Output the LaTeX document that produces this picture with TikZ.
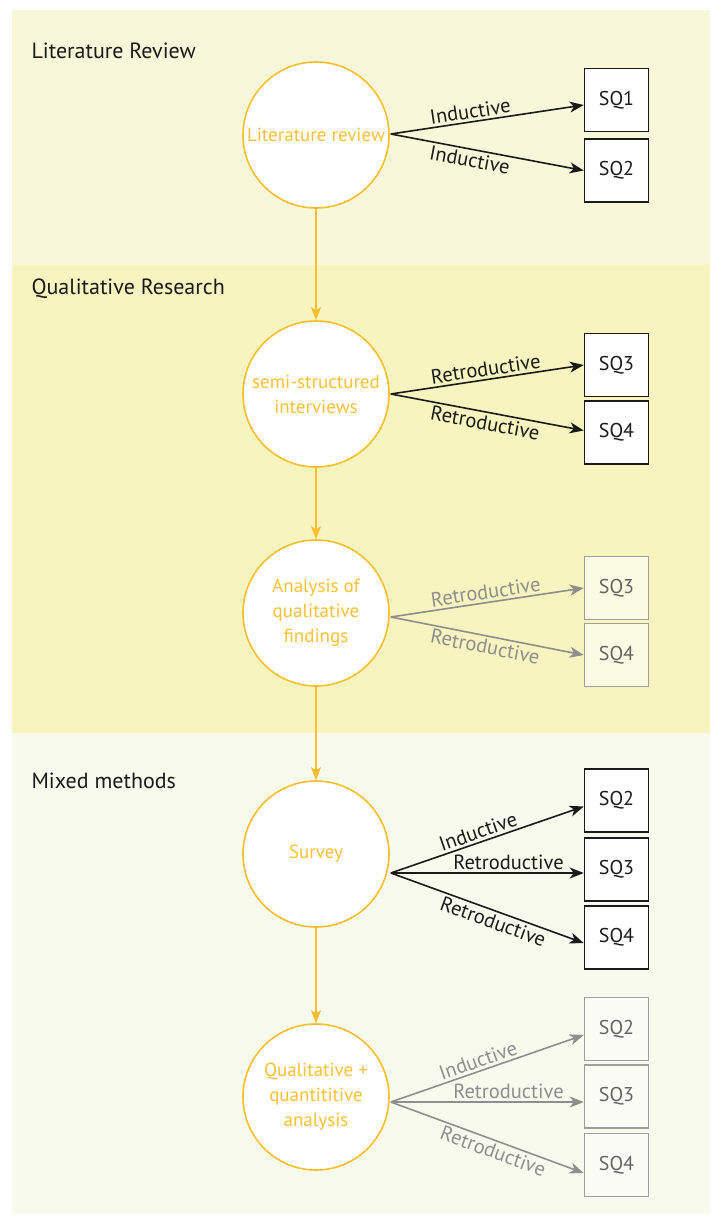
\documentclass[tikz,border=0pt]{standalone}
\usepackage{fontspec}
\setmainfont{PT Sans}
\usetikzlibrary{arrows.meta,calc}

\definecolor{bandA}{HTML}{F9F7D9}
\definecolor{bandB}{HTML}{F7F4BF}
\definecolor{bandC}{HTML}{F9FAEE}
\definecolor{gold}{HTML}{F9BE2B}
\definecolor{goldtext}{HTML}{F9C133}
\definecolor{ink}{HTML}{1A1A1A}
\definecolor{faded}{HTML}{8E8E8E}

\tikzset{
  stage/.style={circle, draw=gold, line width=1.6pt, fill=white,
    minimum size=146pt, inner sep=0pt, text=goldtext, align=center,
    font=\fontsize{19}{25}\selectfont},
  sqbox/.style={draw=ink, line width=1.6pt, fill=white,
    minimum width=64pt, minimum height=63pt, inner sep=0pt,
    font=\fontsize{20}{22}\selectfont, text=ink},
  sqfaded/.style={sqbox, draw=faded!85!white, fill=white, fill opacity=0.55,
    text opacity=1, text=faded!70!black},
  heading/.style={anchor=west, font=\fontsize{22}{26}\selectfont, text=ink},
  link/.style={draw=ink, line width=1.6pt,
    -{Stealth[length=14pt,width=11pt,inset=4pt]}},
  linkfaded/.style={link, draw=faded, -{Stealth[length=14pt,width=11pt,inset=4pt]}},
  flow/.style={draw=gold, line width=1.6pt,
    -{Stealth[length=13pt,width=10pt,inset=3pt]}},
  lab/.style={sloped, font=\fontsize{20.5}{22}\selectfont, text=ink,
    inner xsep=0pt, inner ysep=2.5pt},
  labfaded/.style={lab, text=faded},
}

\begin{document}
\begin{tikzpicture}[x=1pt, y=-1pt]
  \useasboundingbox (0,0) rectangle (710,1216);

  % background bands
  \fill[bandA] (12,10) rectangle (710,265);
  \fill[bandB] (12,265) rectangle (710,733);
  \fill[bandC] (12,733) rectangle (710,1214);

  % band headings
  \node[heading] (h1) at (28,51) {Literature Review};
  \node[heading] (h2) at (28,289) {Qualitative Research};
  \node[heading] (h3) at (28,781) {Mixed methods};

  % stages
  \node[stage] (c1) at (316,135) {Literature review};
  \node[stage] (c2) at (316,394) {semi-structured\\interviews};
  \node[stage] (c3) at (316,613) {Analysis of\\qualitative\\findings};
  \node[stage] (c4) at (316,854) {Survey};
  \node[stage] (c5) at (316,1097) {Qualitative +\\quantititive\\analysis};

  % flow between stages
  \draw[flow] (c1) -- (c2);
  \draw[flow] (c2) -- (c3);
  \draw[flow] (c3) -- (c4);
  \draw[flow] (c4) -- (c5);

  % sub-question boxes
  \node[sqbox] (a1) at (616.5,100) {SQ1};
  \node[sqbox] (a2) at (616.5,170.5) {SQ2};

  \node[sqbox] (b3) at (616.5,365) {SQ3};
  \node[sqbox] (b4) at (616.5,432.5) {SQ4};

  \node[sqfaded] (d3) at (616.5,588) {SQ3};
  \node[sqfaded] (d4) at (616.5,655) {SQ4};

  \node[sqbox] (e2) at (616.5,800.5) {SQ2};
  \node[sqbox] (e3) at (616.5,869.5) {SQ3};
  \node[sqbox] (e4) at (616.5,937.5) {SQ4};

  \node[sqfaded] (f2) at (616.5,1029) {SQ2};
  \node[sqfaded] (f3) at (616.5,1096.5) {SQ3};
  \node[sqfaded] (f4) at (616.5,1165) {SQ4};

  % origin points of the outgoing arrows
  \coordinate (o1) at ($(c1.east)+(1,-1)$);
  \coordinate (o2) at ($(c2.east)+(1,0)$);
  \coordinate (o3) at ($(c3.east)+(1,4)$);
  \coordinate (o4) at ($(c4.east)+(1,19)$);
  \coordinate (o5) at ($(c5.east)+(1,5)$);

  % literature review
  \draw[link] (o1) -- node[lab, pos=0.42, above] {Inductive} ($(a1.west)+(0,5)$);
  \draw[link] (o1) -- node[lab, pos=0.42, below] {Inductive} (a2.west);

  % interviews
  \draw[link] (o2) -- node[lab, pos=0.5, above] {Retroductive} (b3.west);
  \draw[link] (o2) -- node[lab, pos=0.5, below] {Retroductive} ($(b4.west)+(0,-2)$);

  % analysis of qualitative findings
  \draw[linkfaded] (o3) -- node[labfaded, pos=0.5, above] {Retroductive} (d3.west);
  \draw[linkfaded] (o3) -- node[labfaded, pos=0.5, below] {Retroductive} (d4.west);

  % survey
  \draw[link] (o4) -- node[lab, pos=0.47, above] {Inductive} ($(e2.west)+(0,6)$);
  \draw[link] (o4) -- node[lab, pos=0.61, above] {Retroductive} ($(e3.west)+(0,3.5)$);
  \draw[link] (o4) -- node[lab, pos=0.55, below] {Retroductive} ($(e4.west)+(0,5.5)$);

  % combined analysis
  \draw[linkfaded] (o5) -- node[labfaded, pos=0.47, above] {Inductive} ($(f2.west)+(0,6)$);
  \draw[linkfaded] (o5) -- node[labfaded, pos=0.61, above] {Retroductive} ($(f3.west)+(0,5.5)$);
  \draw[linkfaded] (o5) -- node[labfaded, pos=0.55, below] {Retroductive} ($(f4.west)+(0,8)$);
\end{tikzpicture}
\end{document}
